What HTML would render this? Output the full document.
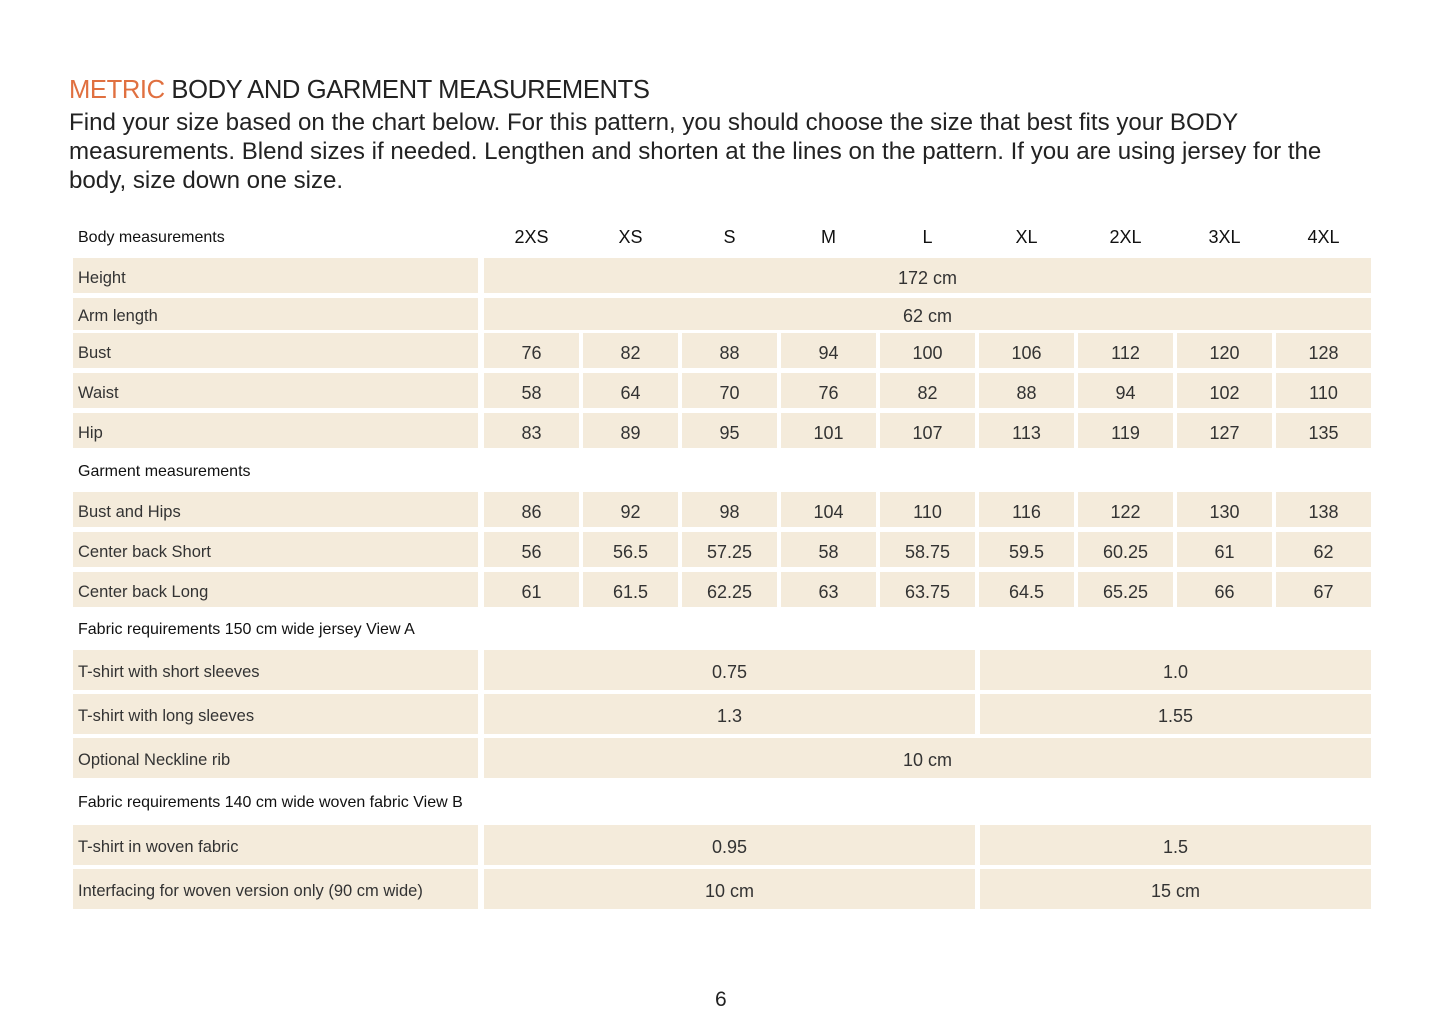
<!DOCTYPE html>
<html><head><meta charset="utf-8"><style>
body{margin:0;width:1445px;height:1019px;background:#fff;position:relative;font-family:"Liberation Sans",sans-serif;color:#222;overflow:hidden}
.c{position:absolute;background:#f4ebdb;font-size:18px;color:#333;display:flex;align-items:center;justify-content:center;padding-top:5px;box-sizing:border-box}
.l{position:absolute;background:#f4ebdb;font-size:16.5px;color:#333;display:flex;align-items:center;padding-left:5px;padding-top:5px;box-sizing:border-box}
.h{position:absolute;font-size:16px;color:#111;}
.s{position:absolute;font-size:18px;color:#111;width:95px;text-align:center}
</style></head><body>
<div style="position:absolute;left:69px;top:76px;font-size:25.6px;letter-spacing:-0.4px;color:#222"><span style="color:#e07040">METRIC</span> BODY AND GARMENT MEASUREMENTS</div>
<div style="position:absolute;left:69px;top:108px;width:1300px;font-size:24.1px;line-height:29px;color:#222">Find your size based on the chart below. For this pattern, you should choose the size that best fits your BODY measurements. Blend sizes if needed. Lengthen and shorten at the lines on the pattern. If you are using jersey for the body, size down one size.</div>
<div class="h" style="left:78px;top:229px">Body measurements</div>
<div class="h" style="left:78px;top:463px">Garment measurements</div>
<div class="h" style="left:78px;top:621px">Fabric requirements 150 cm wide jersey View A</div>
<div class="h" style="left:78px;top:794px">Fabric requirements 140 cm wide woven fabric View B</div>
<div id="t"></div>
<div style="position:absolute;left:715px;top:988px;font-size:21px;color:#222">6</div>
<script>
var o='';
var sz=['2XS','XS','S','M','L','XL','2XL','3XL','4XL'];
sz.forEach(function(s,i){o+='<div class="s" style="left:'+(484+99*i)+'px;top:227px">'+s+'</div>';});
function lab(t,y,h){o+='<div class="l" style="left:73px;top:'+y+'px;width:405px;height:'+h+'px">'+t+'</div>';}
function cell(t,x,y,w,h){o+='<div class="c" style="left:'+x+'px;top:'+y+'px;width:'+w+'px;height:'+h+'px">'+t+'</div>';}
function row(t,y,h,v){lab(t,y,h);v.forEach(function(a,i){cell(a,484+99*i,y,95,h);});}
lab('Height',258,35);cell('172 cm',484,258,887,35);
lab('Arm length',298,32);cell('62 cm',484,298,887,32);
row('Bust',333,35,['76','82','88','94','100','106','112','120','128']);
row('Waist',373,35,['58','64','70','76','82','88','94','102','110']);
row('Hip',413,35,['83','89','95','101','107','113','119','127','135']);
row('Bust and Hips',492,35,['86','92','98','104','110','116','122','130','138']);
row('Center back Short',532,35,['56','56.5','57.25','58','58.75','59.5','60.25','61','62']);
row('Center back Long',572,35,['61','61.5','62.25','63','63.75','64.5','65.25','66','67']);
function two(t,y,h,a,b){lab(t,y,h);cell(a,484,y,491,h);cell(b,980,y,391,h);}
two('T-shirt with short sleeves',650,40,'0.75','1.0');
two('T-shirt with long sleeves',694,40,'1.3','1.55');
lab('Optional Neckline rib',738,40);cell('10 cm',484,738,887,40);
two('T-shirt in woven fabric',825,40,'0.95','1.5');
two('Interfacing for woven version only (90 cm wide)',869,40,'10 cm','15 cm');
document.getElementById('t').innerHTML=o;
</script>
</body></html>
